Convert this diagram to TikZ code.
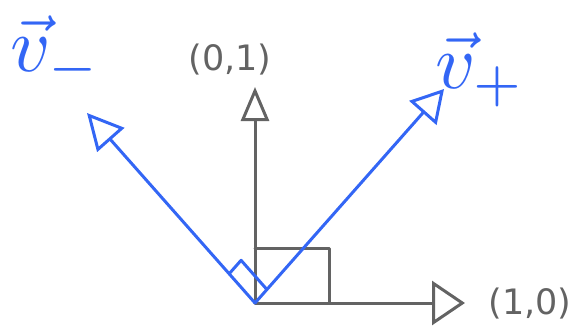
\documentclass[tikz,border=0pt]{standalone}
\usepackage{fontspec}
\setsansfont{DejaVu Sans}
\usetikzlibrary{arrows.meta,calc}
\definecolor{penGray}{HTML}{636363}
\definecolor{penBlue}{HTML}{3366F5}
\tikzset{
  axis/.style={draw=penGray, line width=3pt, line cap=round, line join=round},
  vecline/.style={draw=penBlue, line width=3pt, line cap=round, line join=round},
  grayLabel/.style={text=penGray, font=\sffamily\fontsize{35}{35}\selectfont, inner sep=0pt},
  blueLabel/.style={text=penBlue, inner sep=0pt},
}
\begin{document}
\begin{tikzpicture}[x=1pt,y=-1pt]
\useasboundingbox (0,0) rectangle (574,332);
\coordinate (O) at (255,303);
\coordinate (Y) at (255,87);
\coordinate (X) at (465,303);
\coordinate (P) at (444,89);
\coordinate (M) at (87,113);
% axes
\draw[axis, -{Triangle[open, length=34pt, width=28pt]}] (O) -- (Y);
\draw[axis, -{Triangle[open, length=33pt, width=44pt]}] (O) -- (X);
% gray right angle marker
\coordinate (G1) at (255,248);
\coordinate (G2) at (329,248);
\coordinate (G3) at (329,302);
\draw[axis] (G1) -- (G2) -- (G3);
% blue vectors
\draw[vecline, -{Triangle[open, length=32pt, width=36pt]}] (O) -- (P);
\draw[vecline, -{Triangle[open, length=36pt, width=36pt]}] (O) -- (M);
% blue right angle marker
\coordinate (B1) at ($(O)!39pt!(M)$);
\coordinate (B3) at ($(O)!18pt!(P)$);
\coordinate (B2) at ($(B1)+(B3)-(O)$);
\draw[vecline] (B1) -- (B2) -- (B3);
% labels
\node[grayLabel] (lY) at (230,60) {(0,1)};
\node[grayLabel] (lX) at (530,304) {(1,0)};
\node[blueLabel] (lM) at (56,53) {\scalebox{7.8}{$\vec{v}_{-}$}};
\node[blueLabel] (lP) at (480,70) {\scalebox{7.8}{$\vec{v}_{+}$}};
\end{tikzpicture}
\end{document}
